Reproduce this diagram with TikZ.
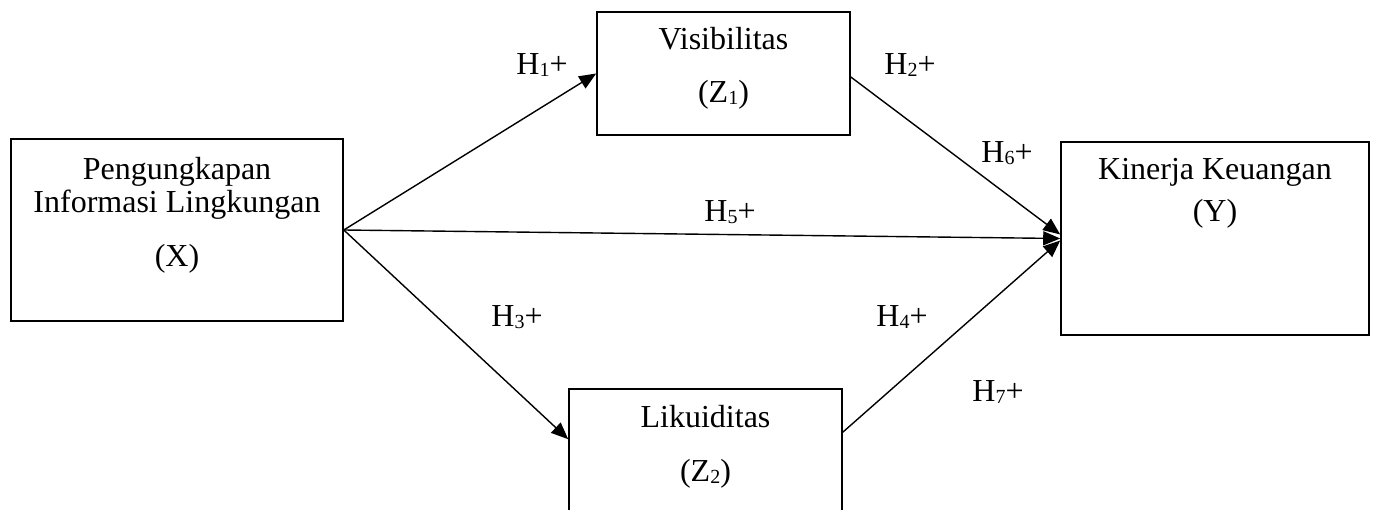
\documentclass[tikz,border=0pt]{standalone}
\usepackage{fontspec}
\setmainfont{Liberation Serif}
\usetikzlibrary{arrows.meta}
\newcommand{\hsub}[1]{{\fontsize{20}{20}\selectfont\raisebox{-1.5pt}{#1}}}
\begin{document}
\begin{tikzpicture}[x=1pt,y=-1pt,
  box/.style={draw=black,line width=1.6pt,inner sep=0pt,minimum width=#1},
  txt/.style={anchor=base,inner sep=0pt,font=\fontsize{32}{36}\selectfont},
  arr/.style={line width=1.4pt,-{Triangle[length=17pt,width=14pt]}}]
\clip (0,0) rectangle (1374,510);
\fill[white] (0,0) rectangle (1374,510);
% boxes
\node[box=332pt,minimum height=182pt] (X) at (177,230) {};
\node[box=253pt,minimum height=123pt] (Z1) at (723.5,73.5) {};
\node[box=273pt,minimum height=171pt] (Z2) at (705.5,474.5) {};
\node[box=308pt,minimum height=193pt] (Y) at (1215,238.5) {};
% box texts
\node[txt] (x1) at (177,180) {Pengungkapan};
\node[txt] (x2) at (177,213) {Informasi Lingkungan};
\node[txt] (x3) at (177,267) {(X)};
\node[txt] (z11) at (723.5,50) {Visibilitas};
\node[txt] (z12) at (723.5,103) {(Z\hsub{1})};
\node[txt] (z21) at (705.5,428) {Likuiditas};
\node[txt] (z22) at (705.5,482) {(Z\hsub{2})};
\node[txt] (y1) at (1215,180) {Kinerja Keuangan};
\node[txt] (y2) at (1215,222) {(Y)};
% connectors
\draw[arr] (X.east) -- (Z1.west);
\draw[arr] (X.east) -- ([yshift=-51pt]Z2.north west);
\draw[arr] (X.east) -- (Y.west);
\draw[arr] ([yshift=-3.5pt]Z1.east) -- ([yshift=4pt]Y.west);
\draw[arr] ([yshift=-44pt]Z2.north east) -- ([yshift=-2pt]Y.west);
% hypothesis labels
\node[txt] (h1) at (542,75) {H\hsub{1}+};
\node[txt] (h2) at (910,75) {H\hsub{2}+};
\node[txt] (h6) at (1007,163) {H\hsub{6}+};
\node[txt] (h5) at (730,222) {H\hsub{5}+};
\node[txt] (h3) at (517,327) {H\hsub{3}+};
\node[txt] (h4) at (902,327) {H\hsub{4}+};
\node[txt] (h7) at (998,402) {H\hsub{7}+};
\end{tikzpicture}
\end{document}
